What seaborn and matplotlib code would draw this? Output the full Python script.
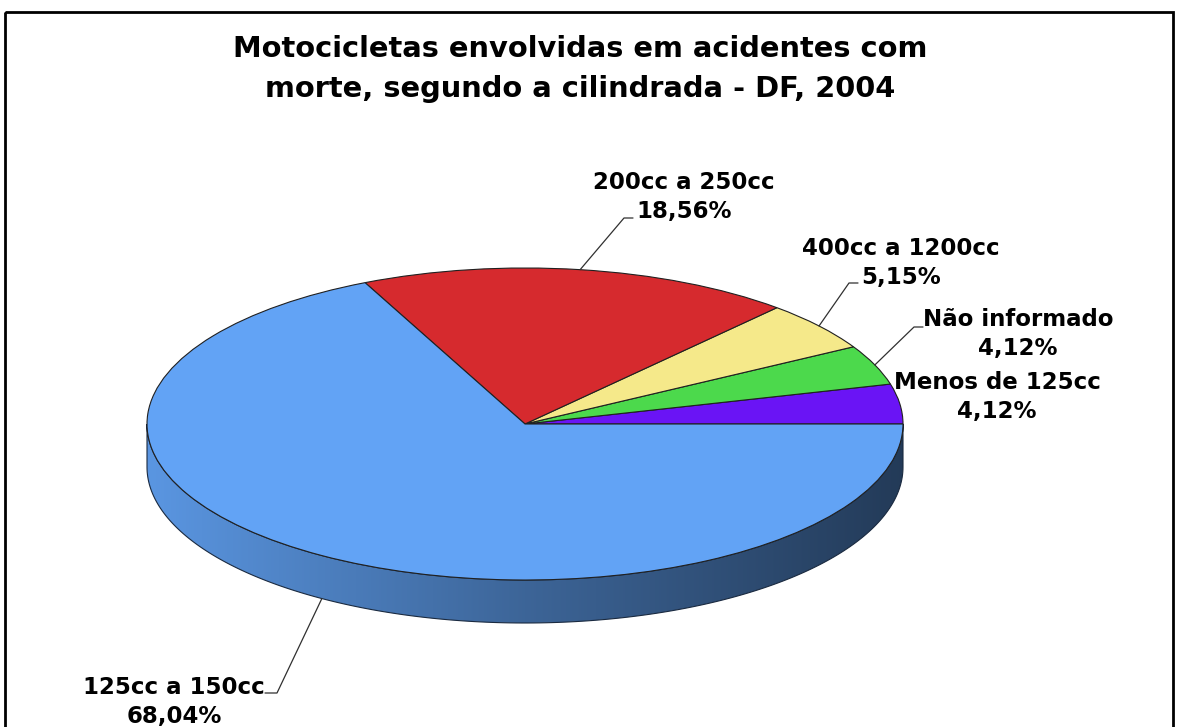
import numpy as np
import matplotlib
matplotlib.use('Agg')
import matplotlib.pyplot as plt
import matplotlib.colors as mcolors
from matplotlib.patches import Polygon, Rectangle
from matplotlib.transforms import Affine2D
import seaborn as sns

# dados
categorias = ['Menos de 125cc', 'Não informado', '400cc a 1200cc', '200cc a 250cc', '125cc a 150cc']
percentuais = [4.12, 4.12, 5.15, 18.56, 68.04]
cores = ['#6a14f5', '#4cd94c', '#f5e98a', '#d62a2e', '#62a3f5']
titulo = 'Motocicletas envolvidas em acidentes com\nmorte, segundo a cilindrada - DF, 2004'

sns.set_theme(style='white')
plt.rcParams['font.family'] = ['DejaVu Sans']

fig = plt.figure(figsize=(11.78, 7.27), dpi=100)
ax = fig.add_axes([0, 0, 1, 1])

cx, cy = 525, 424
rx, ry, prof = 378, 156, 43
achata = Affine2D().translate(-cx, -cy).scale(1, ry / rx).translate(cx, cy) + ax.transData

# lateral (parte da frente do disco)
frac = np.cumsum([0] + percentuais) / 100 * 360
for i, cor in enumerate(cores):
    a0, a1 = max(frac[i], 180), min(frac[i + 1], 360)
    if a1 <= a0:
        continue
    t = np.radians(np.linspace(a0, a1, 200))
    xs = cx + rx * np.cos(t)
    ys = cy - ry * np.sin(t)
    pts = np.column_stack([np.r_[xs, xs[::-1]], np.r_[ys, ys[::-1] + prof]])
    poly = Polygon(pts, closed=True, facecolor='none', edgecolor='#1a2a40', lw=0.8, zorder=3)
    ax.add_patch(poly)
    rgb = np.array(mcolors.to_rgb(cor))
    cmap = mcolors.LinearSegmentedColormap.from_list('lat', [rgb * 0.92, rgb * 0.62, rgb * 0.36])
    grad = np.linspace(0, 1, 256).reshape(1, -1)
    im = ax.imshow(grad, cmap=cmap, aspect='auto', zorder=2,
                   extent=[xs.min(), xs.max(), ys.max() + prof, ys.min()])
    im.set_clip_path(poly)

# topo
wedges, _ = ax.pie(percentuais, colors=cores, startangle=0, counterclock=False,
                   radius=rx, center=(cx, cy),
                   wedgeprops=dict(edgecolor='#202020', linewidth=0.8))
for w in wedges:
    w.set_transform(achata)
    w.set_zorder(4)

ax.set_aspect('auto')
ax.set_xlim(0, 1178)
ax.set_ylim(727, 0)
ax.axis('off')

# rótulos
fonte = dict(fontsize=16.5, fontweight='bold', color='black', ha='center', va='center',
             linespacing=1.3, zorder=6)
posicoes = [(997, 397), (1018, 334), (901, 263), (684, 197), (174, 702)]
guias = [None, (914, 327), (849, 283), (624, 218), (277, 693)]
for i, nome in enumerate(categorias):
    rot = f'{nome}\n{percentuais[i]:.2f}%'.replace('.', ',')
    ax.text(*posicoes[i], rot, **fonte)
    if guias[i] is None:
        continue
    meio = np.radians((frac[i] + frac[i + 1]) / 2)
    px = cx + rx * np.cos(meio)
    py = cy - ry * np.sin(meio)
    if np.sin(meio) < 0:
        py += prof
    gx, gy = guias[i]
    dx = 9 if gx > px else -12
    ax.plot([px, gx, gx + dx], [py, gy, gy], color='#303030', lw=0.9, zorder=5)

ax.text(580, 69, titulo, fontsize=20.8, fontweight='bold', color='black',
        ha='center', va='center', linespacing=1.55)

ax.add_patch(Rectangle((5, 12), 1168, 740, fill=False, edgecolor='black', lw=2, clip_on=False))

fig.savefig('out.png', dpi=100)
